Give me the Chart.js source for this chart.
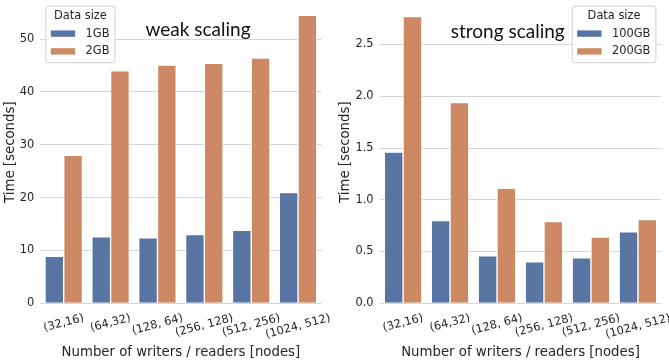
<!DOCTYPE html>
<html>
<head>
<meta charset="utf-8">
<script src="https://cdn.jsdelivr.net/npm/chart.js@4.4.0/dist/chart.umd.min.js"></script>
<style>
  html, body { margin: 0; padding: 0; background: #fff; }
  #wrap { position: relative; width: 669px; height: 362px; overflow: hidden; }
  canvas { position: absolute; top: 0; }
</style>
</head>
<body>
<div id="wrap">
  <canvas id="weak" width="335" height="362" style="left:0"></canvas>
  <canvas id="strong" width="334" height="362" style="left:335px"></canvas>
</div>
<script>
// writer / reader node counts on the x axis
const nodeLabels = ['(32,16)', '(64,32)', '(128, 64)', '(256, 128)', '(512, 256)', '(1024, 512)']

// weak scaling, seconds
const weakSizes = ['1GB', '2GB']
const weakSmall = [8.9, 12.6, 12.4, 13.0, 13.8, 20.95]
const weakLarge = [28.0, 44.0, 45.1, 45.4, 46.4, 54.5]

// strong scaling, seconds
const strongSizes = ['100GB', '200GB']
const strongSmall = [1.46, 0.80, 0.46, 0.40, 0.44, 0.69]
const strongLarge = [2.77, 1.94, 1.11, 0.79, 0.64, 0.81]

const BLUE = '#5975a4'
const ORANGE = '#cc8963'
const INK = '#262626'
const FONT = "'DejaVu Sans'"

// rotated category labels, centred under each group
const xTickText = {
  id: 'xTickText',
  afterDraw(chart, args, o) {
    const { ctx, chartArea } = chart
    const scale = chart.scales.x
    const ang = o.angle * Math.PI / 180
    ctx.save()
    ctx.font = `${o.size}px ${FONT}`
    ctx.fillStyle = INK
    ctx.textAlign = 'center'
    ctx.textBaseline = 'middle'
    chart.data.labels.forEach((lab, i) => {
      const w = ctx.measureText(lab).width
      const half = (w * Math.sin(ang) + o.size * 0.9 * Math.cos(ang)) / 2
      const x = scale.getPixelForTick(i)
      const y = chartArea.bottom + o.gap + half
      ctx.save()
      ctx.translate(x, y)
      ctx.rotate(-ang)
      ctx.fillText(lab, 0, 0)
      ctx.restore()
    })
    ctx.restore()
  }
}

// panel caption inside the plot area
const panelTitle = {
  id: 'panelTitle',
  afterDraw(chart, args, o) {
    const { ctx, chartArea } = chart
    ctx.save()
    ctx.font = `${o.size}px Lato`
    ctx.fillStyle = '#111'
    ctx.textAlign = 'center'
    ctx.textBaseline = 'alphabetic'
    ctx.fillText(o.text, chartArea.left + o.x, o.y)
    ctx.restore()
  }
}

// framed legend with a title, drawn over the grid
const boxLegend = {
  id: 'boxLegend',
  afterDraw(chart, args, o) {
    const { ctx, chartArea } = chart
    const sets = chart.data.datasets
    ctx.save()
    ctx.font = `${o.size}px ${FONT}`
    const textW = Math.max(...sets.map(d => ctx.measureText(d.label).width))
    const titleW = ctx.measureText(o.title).width
    const w = Math.max(5 + 24.3 + 10.5 + textW + 5.5, titleW + 16)
    const h = 56.7
    const x = o.align === 'right' ? chartArea.right - o.inset - w : chartArea.left + o.inset
    const y = chartArea.top + 5
    ctx.beginPath()
    ctx.roundRect(x, y, w, h, 3)
    ctx.fillStyle = 'rgba(255,255,255,0.85)'
    ctx.fill()
    ctx.strokeStyle = '#d0d0d0'
    ctx.lineWidth = 1
    ctx.stroke()
    ctx.fillStyle = INK
    ctx.textAlign = 'center'
    ctx.textBaseline = 'middle'
    ctx.fillText(o.title, x + w / 2, y + 10)
    sets.forEach((d, i) => {
      const ry = y + 27.6 + i * 17.8
      ctx.fillStyle = d.backgroundColor
      ctx.fillRect(x + 5, ry - 3.2, 24.3, 6.4)
      ctx.fillStyle = INK
      ctx.textAlign = 'left'
      ctx.fillText(d.label, x + 5 + 24.3 + 10.5, ry)
    })
    ctx.restore()
  }
}

function makePanel(id, p) {
  return new Chart(document.getElementById(id), {
    type: 'bar',
    data: {
      labels: nodeLabels,
      datasets: [
        { label: p.sizes[0], data: p.small, backgroundColor: BLUE, borderColor: '#fff', borderWidth: 0.7 },
        { label: p.sizes[1], data: p.large, backgroundColor: ORANGE, borderColor: '#fff', borderWidth: 0.7 }
      ]
    },
    options: {
      responsive: false,
      devicePixelRatio: 1,
      animation: false,
      layout: { padding: { top: 1, right: p.padRight, left: 0, bottom: 0 } },
      datasets: { bar: { barPercentage: 1, categoryPercentage: 0.8 } },
      plugins: {
        legend: { display: false },
        tooltip: { enabled: false },
        xTickText: { angle: 15, size: 11.4, gap: 9.5 },
        panelTitle: { text: p.title, x: p.titleX, y: p.titleY, size: 19 },
        boxLegend: { title: 'Data size', align: p.legendAlign, inset: 5.5, size: 11.4 }
      },
      scales: {
        x: {
          grid: { display: false },
          border: { display: false },
          ticks: { display: false },
          title: {
            display: true,
            text: 'Number of writers / readers [nodes]',
            color: INK,
            font: { family: FONT, size: 13.3 },
            padding: { top: 0, bottom: 1 }
          },
          afterFit: s => { s.height = 58.7; s.paddingLeft = 0; s.paddingRight = 0 }
        },
        y: {
          min: 0,
          max: p.max,
          grid: { color: '#d6d6d6', lineWidth: 1, drawTicks: false },
          border: { display: false },
          ticks: {
            stepSize: p.step,
            includeBounds: false,
            padding: 6,
            color: INK,
            font: { family: FONT, size: 11.4 },
            callback: p.fmt
          },
          title: {
            display: true,
            text: 'Time [seconds]',
            color: INK,
            font: { family: FONT, size: 13.3 },
            padding: { top: 2.5, bottom: 0 }
          },
          afterFit: s => { s.width = p.axisWidth; s.paddingTop = 0; s.paddingBottom = 0 }
        }
      }
    },
    plugins: [xTickText, panelTitle, boxLegend]
  })
}

makePanel('weak', {
  sizes: weakSizes, small: weakSmall, large: weakLarge,
  max: 57.2, step: 10, fmt: v => String(v),
  axisWidth: 40.3, padRight: 13.5,
  title: 'weak scaling', titleX: 157.7, titleY: 36,
  legendAlign: 'left'
})

makePanel('strong', {
  sizes: strongSizes, small: strongSmall, large: strongLarge,
  max: 2.92, step: 0.5, fmt: v => v.toFixed(1),
  axisWidth: 44.6, padRight: 7.6,
  title: 'strong scaling', titleX: 128.1, titleY: 37.5,
  legendAlign: 'right'
})
</script>
</body>
</html>
